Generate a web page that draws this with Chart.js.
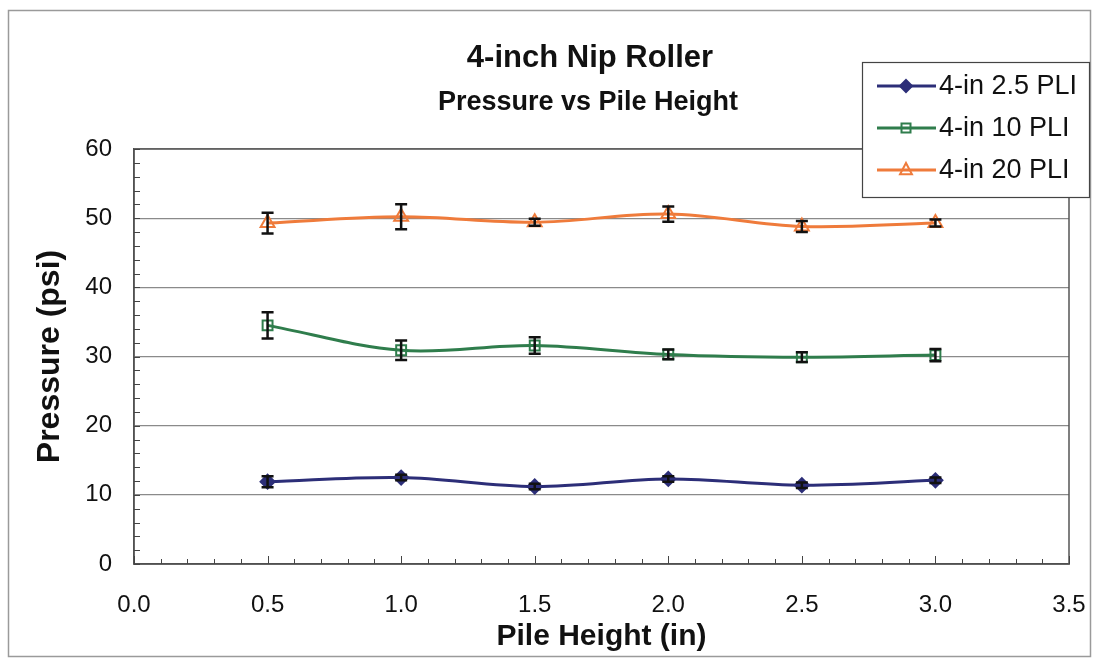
<!DOCTYPE html>
<html>
<head>
<meta charset="utf-8">
<script src="https://cdn.jsdelivr.net/npm/chart.js@4"></script>
<style>
html,body{margin:0;padding:0;background:#fff;}
#wrap{width:1098px;height:661px;}
</style>
</head>
<body>
<div id="wrap"><canvas id="c" width="1098" height="661"></canvas></div>
<script>
// ---- data ----
const pileHeights = [0.5, 1.0, 1.5, 2.0, 2.5, 3.0];
const seriesNames = ['4-in 2.5 PLI', '4-in 10 PLI', '4-in 20 PLI'];
const pli25 = [11.9, 12.5, 11.2, 12.3, 11.4, 12.1];
const pli25Err = [0.8, 0.4, 0.4, 0.4, 0.4, 0.4];
const pli10 = [34.5, 30.9, 31.6, 30.3, 29.9, 30.2];
const pli10Err = [1.9, 1.4, 1.2, 0.7, 0.7, 0.9];
const pli20 = [49.3, 50.2, 49.4, 50.6, 48.8, 49.3];
const pli20Err = [1.5, 1.8, 0.5, 1.1, 0.8, 0.5];
const xTicks = [0, 0.5, 1.0, 1.5, 2.0, 2.5, 3.0, 3.5];
const yTicks = [0, 10, 20, 30, 40, 50, 60];
const titleText = '4-inch Nip Roller';
const subtitleText = 'Pressure vs Pile Height';
const xTitle = 'Pile Height (in)';
const yTitle = 'Pressure (psi)';

const FONT = '"Liberation Sans", Arial, Helvetica, sans-serif';
const colors = ['#2c2e78', '#2f7d4c', '#ef7b3b'];
const styles = ['rectRot', 'rect', 'triangle'];
const errs = [pli25Err, pli10Err, pli20Err];
const vals = [pli25, pli10, pli20];

const toXY = arr => pileHeights.map((x, i) => ({x: x, y: arr[i]}));

const datasets = vals.map((v, k) => ({
  label: seriesNames[k],
  data: toXY(v),
  borderColor: colors[k],
  backgroundColor: k === 0 ? colors[k] : 'rgba(255,255,255,0)',
  borderWidth: 3,
  pointStyle: styles[k],
  pointRadius: k === 2 ? 8 : 7,
  pointBorderWidth: 2,
  pointBackgroundColor: k === 0 ? colors[k] : 'rgba(255,255,255,0)',
  pointBorderColor: colors[k],
  tension: 0.35,
  fill: false
}));

function drawMarker(ctx, style, x, y, r, color, filled) {
  ctx.save();
  ctx.strokeStyle = color; ctx.fillStyle = color; ctx.lineWidth = 2;
  ctx.beginPath();
  if (style === 'rectRot') {
    ctx.moveTo(x, y - r); ctx.lineTo(x + r, y); ctx.lineTo(x, y + r); ctx.lineTo(x - r, y); ctx.closePath();
  } else if (style === 'rect') {
    ctx.rect(x - r * 0.75, y - r * 0.75, r * 1.5, r * 1.5);
  } else {
    ctx.moveTo(x, y - r); ctx.lineTo(x + r * 0.85, y + r * 0.6); ctx.lineTo(x - r * 0.85, y + r * 0.6); ctx.closePath();
  }
  if (filled) ctx.fill();
  ctx.stroke();
  ctx.restore();
}

const decor = {
  id: 'decor',
  beforeDraw(chart) {
    const ctx = chart.ctx;
    ctx.save();
    ctx.fillStyle = '#fff';
    ctx.fillRect(0, 0, chart.width, chart.height);
    ctx.strokeStyle = '#9a9a9a';
    ctx.lineWidth = 1.5;
    ctx.strokeRect(8.5, 10.5, 1082, 646);
    ctx.restore();
  },
  beforeDatasetsDraw(chart) {
    const ctx = chart.ctx, a = chart.chartArea;
    const xs = chart.scales.x, ys = chart.scales.y;
    ctx.save();
    ctx.strokeStyle = '#555';
    ctx.lineWidth = 1.5;
    ctx.strokeRect(a.left, a.top, a.right - a.left, a.bottom - a.top);
    ctx.lineWidth = 1;
    ctx.strokeStyle = '#444';
    ctx.beginPath();
    for (let v = 0; v <= 60; v += 2) {
      const y = Math.round(ys.getPixelForValue(v)) + 0.5;
      ctx.moveTo(a.left, y); ctx.lineTo(a.left + 6, y);
    }
    for (let i = 0; i <= 35; i++) {
      const x = Math.round(xs.getPixelForValue(i / 10)) + 0.5;
      const len = (i % 5 === 0) ? 8 : 5;
      ctx.moveTo(x, a.bottom); ctx.lineTo(x, a.bottom - len);
    }
    ctx.stroke();
    ctx.restore();
  },
  afterDatasetsDraw(chart) {
    const ctx = chart.ctx;
    const xs = chart.scales.x, ys = chart.scales.y;
    ctx.save();
    ctx.strokeStyle = '#111';
    ctx.lineWidth = 2.5;
    errs.forEach((e, k) => {
      vals[k].forEach((v, i) => {
        const x = xs.getPixelForValue(pileHeights[i]);
        const y1 = ys.getPixelForValue(v - e[i]);
        const y2 = ys.getPixelForValue(v + e[i]);
        ctx.beginPath();
        ctx.moveTo(x, y1); ctx.lineTo(x, y2);
        ctx.moveTo(x - 6, y1); ctx.lineTo(x + 6, y1);
        ctx.moveTo(x - 6, y2); ctx.lineTo(x + 6, y2);
        ctx.stroke();
      });
    });
    ctx.restore();
  },
  afterDraw(chart) {
    const ctx = chart.ctx, a = chart.chartArea;
    ctx.save();
    ctx.fillStyle = '#111';
    ctx.textAlign = 'center';
    ctx.textBaseline = 'alphabetic';
    ctx.font = 'bold 31px ' + FONT;
    ctx.fillText(titleText, 590, 67);
    ctx.font = 'bold 27px ' + FONT;
    ctx.fillText(subtitleText, 588, 110);
    // x title
    ctx.font = 'bold 30px ' + FONT;
    ctx.fillText(xTitle, (a.left + a.right) / 2, 645);
    // y title
    ctx.save();
    ctx.translate(59, (a.top + a.bottom) / 2);
    ctx.rotate(-Math.PI / 2);
    ctx.font = 'bold 32px ' + FONT;
    ctx.fillText(yTitle, 0, 0);
    ctx.restore();
    // legend
    ctx.fillStyle = '#fff';
    ctx.fillRect(862, 62, 227, 135);
    ctx.strokeStyle = '#444';
    ctx.lineWidth = 1.2;
    ctx.strokeRect(862.5, 62.5, 227, 135);
    const rowY = [86, 128, 170];
    ctx.font = '27px ' + FONT;
    ctx.textAlign = 'left';
    ctx.textBaseline = 'middle';
    seriesNames.forEach((n, k) => {
      const y = rowY[k];
      ctx.strokeStyle = colors[k];
      ctx.lineWidth = 3;
      ctx.beginPath();
      ctx.moveTo(877, y); ctx.lineTo(936, y);
      ctx.stroke();
      drawMarker(ctx, styles[k], 906, y, k === 2 ? 7 : 6, colors[k], k === 0);
      ctx.fillStyle = '#111';
      ctx.fillText(n, 939, y + 1);
    });
    ctx.restore();
  }
};

new Chart(document.getElementById('c'), {
  type: 'line',
  data: { datasets: datasets },
  options: {
    responsive: false,
    animation: false,
    devicePixelRatio: 1,
    layout: { padding: { left: 8, right: 29, top: 149, bottom: 0 } },
    plugins: { legend: { display: false }, title: { display: false }, tooltip: { enabled: false } },
    scales: {
      x: {
        type: 'linear',
        min: 0, max: 3.5,
        afterBuildTicks: s => { s.ticks = xTicks.map(v => ({value: v})); },
        afterFit: s => { s.height = 97; s.paddingLeft = 0; s.paddingRight = 0; },
        ticks: {
          callback: v => Number(v).toFixed(1),
          font: { family: FONT, size: 24 },
          color: '#111',
          padding: 27,
          maxRotation: 0,
          autoSkip: false
        },
        grid: { display: false, drawTicks: false },
        border: { display: true, color: '#444', width: 1.5 }
      },
      y: {
        min: 0, max: 60,
        afterBuildTicks: s => { s.ticks = yTicks.map(v => ({value: v})); },
        afterFit: s => { s.width = 126; s.paddingTop = 0; s.paddingBottom = 0; },
        ticks: {
          font: { family: FONT, size: 24 },
          color: '#111',
          padding: 22
        },
        grid: { color: '#8a8a8a', lineWidth: 1.2, drawTicks: false },
        border: { display: true, color: '#444', width: 1.5 }
      }
    }
  },
  plugins: [decor]
});
</script>
</body>
</html>
